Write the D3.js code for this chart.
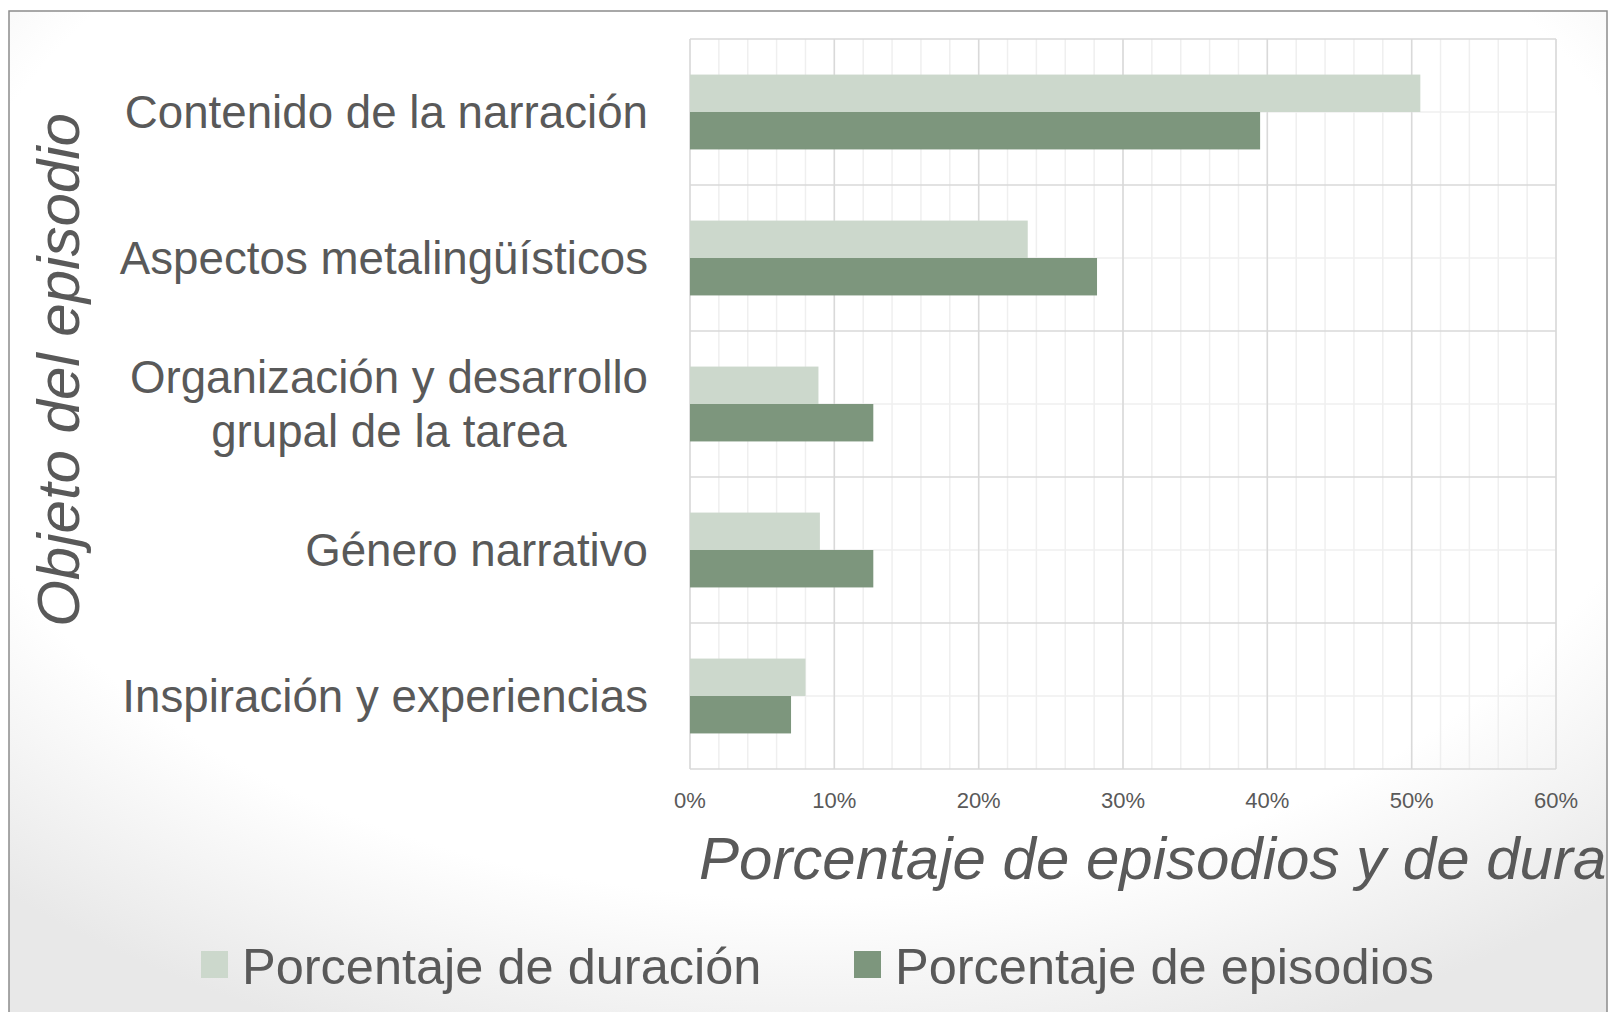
<!DOCTYPE html>
<html>
<head>
<meta charset="utf-8">
<script src="https://cdn.jsdelivr.net/npm/d3@7"></script>
<style>
  body { margin: 0; background: #fff; }
  svg { display: block; }
</style>
</head>
<body>
<div id="chart-area"></div>
<script>
/* Data */
var categories = ["Contenido de la narración", "Aspectos metalingüísticos", "Organización y desarrollo grupal de la tarea", "Género narrativo", "Inspiración y experiencias"];
var categoryLines = [["Contenido de la narración"], ["Aspectos metalingüísticos"], ["Organización y desarrollo", "grupal de la tarea"], ["Género narrativo"], ["Inspiración y experiencias"]];
var seriesNames = ["Porcentaje de duración", "Porcentaje de episodios"];
var duracion = [0.506, 0.234, 0.089, 0.090, 0.080];
var episodios = [0.395, 0.282, 0.127, 0.127, 0.070];
var tickValues = [0, 0.1, 0.2, 0.3, 0.4, 0.5, 0.6];
var tickLabels = ["0%", "10%", "20%", "30%", "40%", "50%", "60%"];

var width = 1610;
var height = 1012;
var font = "'Liberation Sans', Arial, sans-serif";
var textColor = "#595959";
var colors = ["#ccd8cc", "#7d967d"];

var svg = d3.select("#chart-area")
    .append("svg")
    .attr("width", width)
    .attr("height", height);

/* soft slide background + frame */
var defs = svg.append("defs");
var grad = defs.append("radialGradient")
    .attr("id", "bg")
    .attr("cx", "50%").attr("cy", "32%").attr("r", "74%");
grad.append("stop").attr("offset", "74%").attr("stop-color", "#ffffff");
grad.append("stop").attr("offset", "100%").attr("stop-color", "#e8e8e8");

defs.append("clipPath").attr("id", "frameClip")
    .append("rect")
    .attr("x", 9).attr("y", 11)
    .attr("width", 1598).attr("height", height);

svg.append("rect")
    .attr("x", 9).attr("y", 11)
    .attr("width", 1598).attr("height", height + 10)
    .attr("fill", "url(#bg)")
    .attr("stroke", "#8c8c8c")
    .attr("stroke-width", 1.5);

/* scales */
var x = d3.scaleLinear()
    .domain([0, 0.6])
    .range([690, 1556]);

var y = d3.scaleBand()
    .domain(categories)
    .range([39, 769])
    .padding(0);

var y1 = d3.scaleBand()
    .domain(seriesNames)
    .range([0, y.bandwidth()])
    .paddingInner(0)
    .paddingOuter(0.95);

/* grid */
var grid = svg.append("g").attr("class", "grid");

grid.selectAll(".vminor")
    .data(d3.range(0, 0.6001, 0.02))
    .enter().append("line")
    .attr("x1", d => x(d)).attr("x2", d => x(d))
    .attr("y1", y.range()[0]).attr("y2", y.range()[1])
    .attr("stroke", "#efefef")
    .attr("stroke-width", 1.5);

grid.selectAll(".hminor")
    .data(categories)
    .enter().append("line")
    .attr("x1", x.range()[0]).attr("x2", x.range()[1])
    .attr("y1", d => y(d) + y.bandwidth() / 2)
    .attr("y2", d => y(d) + y.bandwidth() / 2)
    .attr("stroke", "#efefef")
    .attr("stroke-width", 1.5);

grid.selectAll(".vmajor")
    .data(tickValues)
    .enter().append("line")
    .attr("x1", d => x(d)).attr("x2", d => x(d))
    .attr("y1", y.range()[0]).attr("y2", y.range()[1])
    .attr("stroke", "#d9d9d9")
    .attr("stroke-width", 1.5);

grid.selectAll(".hmajor")
    .data(categories.map(c => y(c)).concat([y.range()[1]]))
    .enter().append("line")
    .attr("x1", x.range()[0]).attr("x2", x.range()[1])
    .attr("y1", d => d).attr("y2", d => d)
    .attr("stroke", "#d9d9d9")
    .attr("stroke-width", 1.5);

/* bars */
var groups = svg.selectAll(".cat")
    .data(categories)
    .enter().append("g")
    .attr("class", "cat")
    .attr("transform", d => "translate(0," + y(d) + ")");

groups.selectAll("rect")
    .data((d, i) => [{s: seriesNames[0], v: duracion[i]}, {s: seriesNames[1], v: episodios[i]}])
    .enter().append("rect")
    .attr("x", x(0))
    .attr("y", d => y1(d.s))
    .attr("width", d => x(d.v) - x(0))
    .attr("height", y1.bandwidth())
    .attr("fill", (d, i) => colors[i]);

/* x tick labels */
svg.append("g")
    .selectAll("text")
    .data(tickValues)
    .enter().append("text")
    .attr("x", d => x(d))
    .attr("y", 808)
    .attr("text-anchor", "middle")
    .attr("font-family", font)
    .attr("font-size", "22px")
    .attr("fill", textColor)
    .text((d, i) => tickLabels[i]);

/* category labels */
var labels = svg.append("g")
    .selectAll("text")
    .data(categories)
    .enter().append("text")
    .attr("font-family", font)
    .attr("font-size", "45.7px")
    .attr("fill", textColor);

labels.each(function(d, i) {
    var lines = categoryLines[i];
    var t = d3.select(this);
    var cy = y(d) + y.bandwidth() / 2;
    var lh = 54;
    lines.forEach(function(l, j) {
        t.append("tspan")
            .attr("x", 648)
            .attr("text-anchor", "end")
            .attr("y", cy + (j - (lines.length - 1) / 2) * lh + 16)
            .text(l);
    });
});
/* second line of the two-line label is centred under the first */
labels.filter((d, i) => categoryLines[i].length > 1)
    .each(function() {
        var spans = d3.select(this).selectAll("tspan").nodes();
        var w0 = spans[0].getComputedTextLength();
        d3.select(spans[1]).attr("x", 648 - w0 / 2).attr("text-anchor", "middle");
    });

/* axis titles */
svg.append("text")
    .attr("transform", "translate(79,370) rotate(-90)")
    .attr("text-anchor", "middle")
    .attr("font-family", font)
    .attr("font-size", "60px")
    .attr("font-style", "italic")
    .attr("fill", textColor)
    .text("Objeto del episodio");

svg.append("g")
    .attr("clip-path", "url(#frameClip)")
    .append("text")
    .attr("x", 699)
    .attr("y", 879)
    .attr("font-family", font)
    .attr("font-size", "60px")
    .attr("font-style", "italic")
    .attr("fill", textColor)
    .text("Porcentaje de episodios y de duración");

/* legend */
var legendX = [201, 854];
var legend = svg.append("g")
    .selectAll("g")
    .data(seriesNames)
    .enter().append("g")
    .attr("transform", (d, i) => "translate(" + legendX[i] + ",951)");

legend.append("rect")
    .attr("width", 27)
    .attr("height", 27)
    .attr("fill", (d, i) => colors[i]);

legend.append("text")
    .attr("x", 41)
    .attr("y", 33)
    .attr("font-family", font)
    .attr("font-size", "50.5px")
    .attr("fill", textColor)
    .text(d => d);
</script>
</body>
</html>
